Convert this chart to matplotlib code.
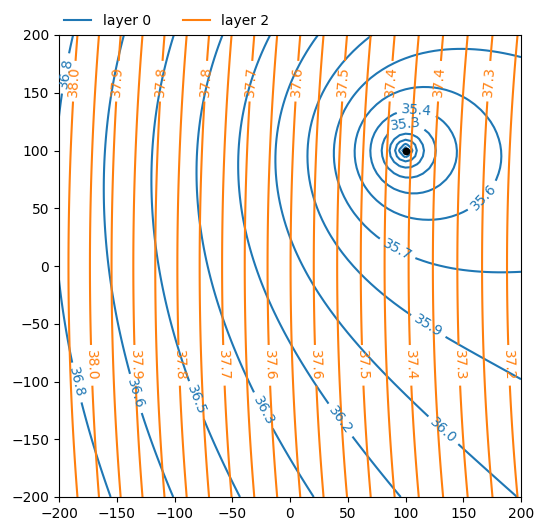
import numpy as np
import matplotlib

matplotlib.use("Agg")
import matplotlib.pyplot as plt
from matplotlib.lines import Line2D

# model grid nodes (m)
grid_x = np.arange(-200, 201, 5)
grid_y = np.arange(-200, 201, 5)

# pumping well (screened in layer 0)
well_x, well_y = 100.0, 100.0
well_radius = 2.5

# layer 0 head: regional surface (coordinates in hundreds of metres) + drawdown
l0_base = 34.38935
l0_trend = (-0.19488, 0.00395)            # d/dx, d/dy
l0_curv = (0.01031, 0.00979, 0.00043)     # x^2, y^2, xy
l0_drawdown = 0.34145                     # per ln(r)

# layer 2 head: nearly uniform gradient to the east
l2_base = 37.601
l2_trend = (-0.00205, 0.0)
l2_curv = 4.3e-7

l0_levels = [36.79, 36.64, 36.49, 36.34, 36.19, 36.04, 35.89, 35.74,
             35.59, 35.44, 35.29, 35.14, 34.99, 34.84, 34.69, 34.54]
l2_levels = [38.010, 37.969, 37.928, 37.887, 37.846, 37.805, 37.764,
             37.723, 37.682, 37.641, 37.600, 37.559, 37.518, 37.477,
             37.436, 37.395, 37.354, 37.313, 37.272, 37.231]

# where the layer 0 labels sit: level and approximate spot
l0_label_spots = [
    (36.79, -194.8, 166.8), (36.79, -185.0, -101.0), (36.64, -134.0, -110.5),
    (36.49, -80.7, -116.0), (36.34, -23.0, -125.0), (36.19, 43.5, -133.6),
    (36.04, 133.0, -142.0), (35.89, 121.0, -50.0), (35.74, 92.4, 13.9),
    (35.59, 167.4, 60.0), (35.44, 109.7, 135.9), (35.29, 99.6, 123.5),
]
# layer 2 labels alternate between an upper and a lower row
l2_label_rows = (160.0, -86.0)


def head_layer0(x, y):
    u, v = x / 100.0, y / 100.0
    r = np.sqrt((x - well_x) ** 2 + (y - well_y) ** 2 + well_radius ** 2)
    return (l0_base + l0_trend[0] * u + l0_trend[1] * v
            + l0_curv[0] * u * u + l0_curv[1] * v * v + l0_curv[2] * u * v
            + l0_drawdown * np.log(r))


def head_layer2(x, y):
    return (l2_base + l2_trend[0] * x + l2_trend[1] * y
            + l2_curv * (x ** 2 + y ** 2))


def point_on_level(cs, level, tx, ty):
    """Closest point to (tx, ty) on the contour drawn for `level`."""
    i = int(np.argmin(np.abs(np.asarray(cs.levels) - level)))
    best, pt = np.inf, (tx, ty)
    for seg in cs.get_paths()[i].to_polygons(closed_only=False):
        if len(seg) < 2:
            continue
        a, b = seg[:-1], seg[1:]
        ab = b - a
        t = ((tx - a[:, 0]) * ab[:, 0] + (ty - a[:, 1]) * ab[:, 1])
        t = np.clip(t / np.maximum((ab ** 2).sum(axis=1), 1e-12), 0, 1)
        p = a + t[:, None] * ab
        d = np.hypot(p[:, 0] - tx, p[:, 1] - ty)
        j = int(d.argmin())
        if d[j] < best:
            best, pt = d[j], (p[j, 0], p[j, 1])
    return pt


X, Y = np.meshgrid(grid_x.astype(float), grid_y.astype(float))
head0 = head_layer0(X, Y)
head2 = head_layer2(X, Y)

fig = plt.figure(figsize=(5.44, 5.31), dpi=100)
ax = fig.add_axes([59 / 544, 34 / 531, 462 / 544, 462 / 531])

cs0 = ax.contour(X, Y, head0, levels=sorted(l0_levels), colors="C0")
spots0 = [point_on_level(cs0, lev, x, y) for lev, x, y in l0_label_spots]
ax.clabel(cs0, fmt="%.1f", manual=spots0)

cs2 = ax.contour(X, Y, head2, levels=sorted(l2_levels), colors="C1")
xf = np.linspace(-200, 200, 4001)
spots2 = []
for k, lev in enumerate(l2_levels):
    yl = l2_label_rows[k % 2]
    hf = head_layer2(xf, yl)
    xl = np.interp(lev, hf[::-1], xf[::-1])
    spots2.append(point_on_level(cs2, lev, xl, yl))
ax.clabel(cs2, fmt="%.1f", manual=spots2)

ax.plot(well_x, well_y, "o", color="k", ms=4.5)

ax.set_xlim(-200, 200)
ax.set_ylim(-200, 200)
ax.set_aspect("equal")

handles = [Line2D([], [], color="C0"), Line2D([], [], color="C1")]
ax.legend(handles, ["layer 0", "layer 2"], loc="lower left",
          bbox_to_anchor=(-0.005, 1.0), ncol=2, frameon=False,
          borderaxespad=0.1, columnspacing=2.3)

fig.savefig("out.png", dpi=100)
